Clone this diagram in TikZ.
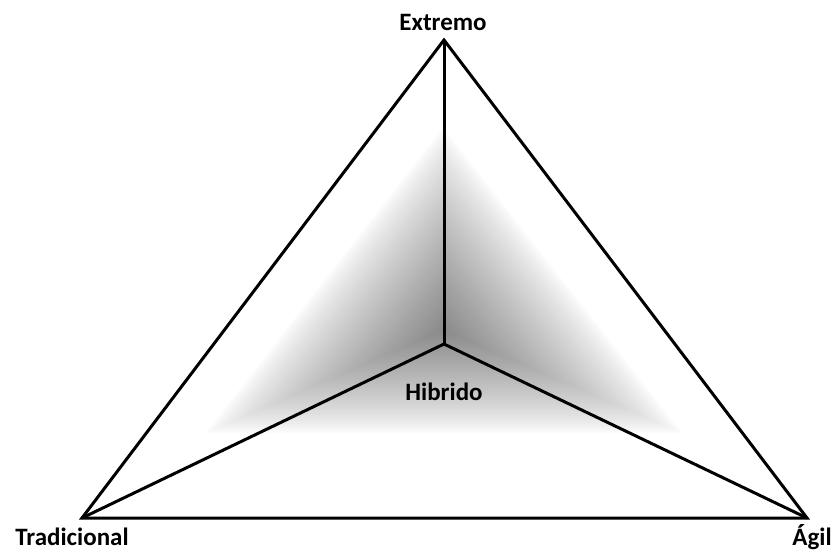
\documentclass[tikz,border=0pt]{standalone}
\usepackage{fontspec}
\setmainfont{Carlito}
\usetikzlibrary{calc}
\begin{document}
\begin{tikzpicture}[x=1pt,y=-1pt,
  edge/.style={line width=3pt,line join=miter,black},
  lbl/.style={font=\fontsize{25}{29}\selectfont\bfseries,inner sep=0pt,text=black}]
\useasboundingbox (0,0) rectangle (839,551);
\fill[white] (0,0) rectangle (839,551);
% shading core
\coordinate (sA) at (443,125);
\coordinate (sB) at (203,434);
\coordinate (sC) at (685,434);
\coordinate (sP) at (443,330);
\foreach \i in {0,...,69}{
  \pgfmathsetmacro\s{1-\i/70}
  \pgfmathsetmacro\c{46*(\i/70)^0.8}
  \fill[black!\c] ($(sP)!\s!(sA)$) -- ($(sP)!\s!(sB)$) -- ($(sP)!\s!(sC)$) -- cycle;
}
% vertices
\coordinate (ext) at (444,40);
\coordinate (tra) at (82,518);
\coordinate (agi) at (807,518);
\coordinate (hib) at (444,344);
\draw[edge] (ext) -- (tra) -- (agi) -- cycle;
\draw[edge] (hib) -- (ext);
\draw[edge] (hib) -- (tra);
\draw[edge] (hib) -- (agi);
\node[lbl] (lext) at (443,22) {Extremo};
\node[lbl] (ltra) at (72,537) {Tradicional};
\node[lbl] (lagi) at (812,537) {Ágil};
\node[lbl] (lhib) at (444,392) {Hibrido};
\end{tikzpicture}
\end{document}
